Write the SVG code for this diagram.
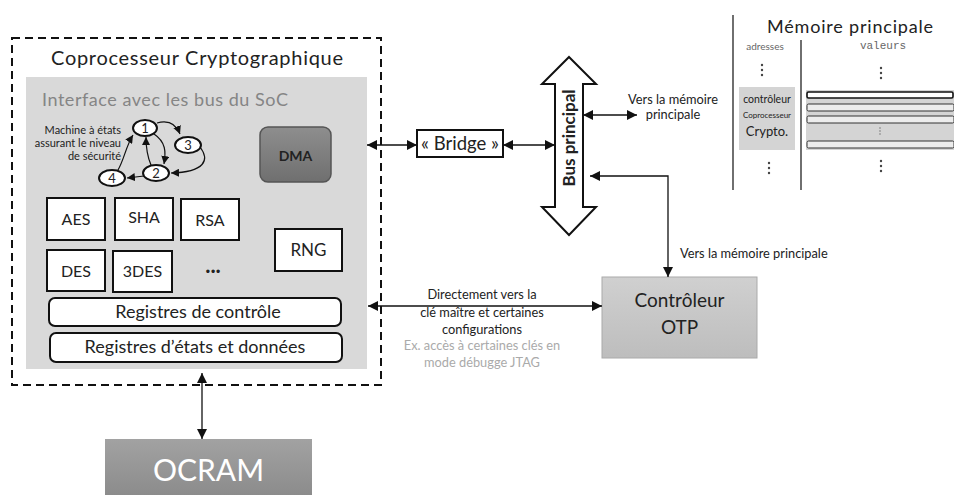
<svg xmlns="http://www.w3.org/2000/svg" width="954" height="495" viewBox="0 0 954 495">
<defs>
<style>
text{font-family:Lato,"Open Sans","Liberation Sans",sans-serif;fill:#222}
.c{text-anchor:middle}
.box{fill:#fff;stroke:#111;stroke-width:2}
.ln{stroke:#111;stroke-width:1.3;fill:none}
.sm{stroke:#111;stroke-width:1.2;fill:none}
.st{fill:#fff;stroke:#111;stroke-width:2}
.lbl{font-size:12.8px}
</style>
<marker id="ah" viewBox="0 0 10 10" refX="10" refY="5" markerWidth="11" markerHeight="10" markerUnits="userSpaceOnUse" orient="auto-start-reverse"><path d="M0,0 L10,5 L0,10 z" fill="#111"/></marker>
<marker id="as" viewBox="0 0 10 10" refX="10" refY="5" markerWidth="8" markerHeight="8" markerUnits="userSpaceOnUse" orient="auto-start-reverse"><path d="M0,0 L10,5 L0,10 z" fill="#111"/></marker>
<linearGradient id="gDma" x1="0" y1="0" x2="0" y2="1"><stop offset="0" stop-color="#8e8e8e"/><stop offset="1" stop-color="#6f6f6f"/></linearGradient>
<linearGradient id="gOtp" x1="0" y1="0" x2="0" y2="1"><stop offset="0" stop-color="#d0d0d0"/><stop offset="1" stop-color="#bdbdbd"/></linearGradient>
<linearGradient id="gOc" x1="0" y1="0" x2="0" y2="1"><stop offset="0" stop-color="#a2a2a2"/><stop offset="1" stop-color="#8a8a8a"/></linearGradient>
</defs>
<rect width="954" height="495" fill="#fff"/>

<g id="coprocesseur">
<rect x="12" y="38" width="369" height="347" fill="none" stroke="#111" stroke-width="2" stroke-dasharray="8,5"/>
<text x="197" y="65" class="c" font-size="20" textLength="292">Coprocesseur Cryptographique</text>
<rect x="26" y="77" width="341" height="292" fill="#d9d9d9"/>
<text x="42" y="106" font-size="18" style="fill:#858585" textLength="246">Interface avec les bus du SoC</text>
</g>

<g id="machine-etats">
<text x="121" y="134" font-size="11" text-anchor="end">Machine à états</text>
<text x="121" y="147" font-size="11" text-anchor="end">assurant le niveau</text>
<text x="121" y="160" font-size="11" text-anchor="end">de sécurité</text>
<path class="sm" d="M157,123 C168,120 176,124 180,134" marker-end="url(#as)"/>
<path class="sm" d="M200,147 C210,160 205,172 171,173" marker-end="url(#as)"/>
<path class="sm" d="M154,134 C166,142 166,152 164,164" marker-end="url(#as)"/>
<path class="sm" d="M151,165 C148,158 146,148 146,137" marker-end="url(#as)"/>
<path class="sm" d="M144,176 L127,178" marker-end="url(#as)"/>
<path class="sm" d="M118,170 C124,160 126,146 133,135" marker-end="url(#as)"/>
<ellipse class="st" cx="145" cy="128" rx="12" ry="8"/>
<text x="145" y="133" class="c" font-size="13">1</text>
<ellipse class="st" cx="188" cy="145" rx="13" ry="8"/>
<text x="188" y="150" class="c" font-size="13">3</text>
<ellipse class="st" cx="156" cy="173" rx="13" ry="8"/>
<text x="156" y="178" class="c" font-size="13">2</text>
<ellipse class="st" cx="112" cy="178" rx="13" ry="8"/>
<text x="112" y="183" class="c" font-size="13">4</text>
</g>

<g id="dma">
<rect x="260" y="127" width="71" height="55" rx="8" fill="url(#gDma)" stroke="#555" stroke-width="1.5"/>
<text x="295.500" y="161" class="c" font-size="14" font-weight="bold">DMA</text>
</g>

<g id="aes"><rect class="box" x="47" y="198" width="58" height="42"/><text x="76" y="225" class="c" font-size="16">AES</text></g>
<g id="sha"><rect class="box" x="115" y="198" width="58" height="42"/><text x="144" y="223" class="c" font-size="16">SHA</text></g>
<g id="rsa"><rect class="box" x="181" y="199" width="58" height="41"/><text x="210" y="226" class="c" font-size="16">RSA</text></g>
<g id="rng"><rect class="box" x="275" y="229" width="67" height="42"/><text x="308.500" y="256" class="c" font-size="17">RNG</text></g>
<g id="des"><rect class="box" x="47" y="250" width="58" height="41"/><text x="76" y="277" class="c" font-size="16">DES</text></g>
<g id="3des"><rect class="box" x="113" y="251" width="59" height="41"/><text x="142.500" y="277" class="c" font-size="16">3DES</text></g>
<g id="etc"><text x="213" y="273" class="c" font-size="22" font-weight="bold">...</text></g>

<g id="registres-controle">
<rect class="box" x="49" y="298" width="292" height="28" rx="6" stroke-width="1.8"/>
<text x="198" y="318" class="c" font-size="18">Registres de contrôle</text>
</g>
<g id="registres-etats">
<rect class="box" x="50" y="333" width="292" height="29" rx="6" stroke-width="1.8"/>
<text x="195" y="353" class="c" font-size="18">Registres d’états et données</text>
</g>

<g id="bridge">
<rect class="box" x="417" y="130" width="86" height="27" stroke-width="1.8"/>
<text x="460" y="150" class="c" font-size="18.5">« Bridge »</text>
</g>

<g id="bus-principal">
<polygon points="569,57 596,84 583,84 583,207 596,207 569,235 542,207 555,207 555,84 542,84" fill="#fff" stroke="#111" stroke-width="2"/>
<text transform="translate(575,138) rotate(-90)" class="c" font-size="17" font-weight="bold">Bus principal</text>
</g>

<g id="memoire-principale">
<line x1="733" y1="15" x2="733" y2="190" stroke="#222" stroke-width="1.3"/>
<line x1="801" y1="40" x2="801" y2="190" stroke="#222" stroke-width="1.3"/>
<text x="850" y="33" class="c" font-size="18" textLength="166">Mémoire principale</text>
<text x="765" y="50" class="c" font-size="10" style="fill:#666">adresses</text>
<text x="883" y="49" class="c" font-size="11" style="font-family:'Liberation Mono',monospace;fill:#666">valeurs</text>
<g fill="#444">
<circle cx="762" cy="65" r="1.2"/><circle cx="762" cy="70" r="1.2"/><circle cx="762" cy="75" r="1.2"/>
<circle cx="881" cy="68" r="1.2"/><circle cx="881" cy="73" r="1.2"/><circle cx="881" cy="78" r="1.2"/>
<circle cx="769" cy="163" r="1.2"/><circle cx="769" cy="168" r="1.2"/><circle cx="769" cy="173" r="1.2"/>
<circle cx="881" cy="161" r="1.2"/><circle cx="881" cy="166" r="1.2"/><circle cx="881" cy="171" r="1.2"/>
</g>
<rect x="739" y="87" width="56" height="63" fill="#d4d4d4"/>
<text x="767" y="103" class="c" font-size="10.5">contrôleur</text>
<text x="767" y="118" class="c" font-size="8">Coprocesseur</text>
<text x="767" y="136" class="c" font-size="13">Crypto.</text>
<rect x="806" y="90" width="148" height="60" fill="#d4d4d4"/>
<rect x="807" y="92" width="146" height="6" rx="1.5" fill="#fff" stroke="#111" stroke-width="1.6"/>
<rect x="807" y="104" width="147" height="7" rx="1.5" fill="#ececec" stroke="#333" stroke-width="1"/>
<rect x="807" y="116" width="147" height="7" rx="1.5" fill="#ececec" stroke="#333" stroke-width="1"/>
<rect x="807" y="141" width="147" height="7" rx="1.5" fill="#ececec" stroke="#333" stroke-width="1"/>
<g fill="#999"><circle cx="880" cy="128" r="0.9"/><circle cx="880" cy="131" r="0.9"/><circle cx="880" cy="134" r="0.9"/></g>
</g>

<g id="otp">
<rect x="602" y="277" width="155" height="81" fill="url(#gOtp)" stroke="#aaa" stroke-width="1"/>
<text x="679.500" y="307" class="c" font-size="19">Contrôleur</text>
<text x="679.500" y="334" class="c" font-size="19">OTP</text>
</g>

<g id="ocram">
<rect x="105" y="439" width="207" height="60" fill="url(#gOc)"/>
<text x="208.500" y="481" class="c" font-size="30" style="fill:#fff">OCRAM</text>
</g>

<g id="connecteurs">
<line class="ln" x1="367" y1="145" x2="417" y2="145" marker-start="url(#ah)" marker-end="url(#ah)"/>
<line class="ln" x1="503" y1="145" x2="555" y2="145" marker-start="url(#ah)" marker-end="url(#ah)"/>
<line class="ln" x1="583" y1="115" x2="637" y2="115" marker-start="url(#ah)" marker-end="url(#ah)"/>
<path class="ln" d="M590,176 H668 V277" marker-start="url(#ah)" marker-end="url(#ah)"/>
<line class="ln" x1="368" y1="306" x2="602" y2="306" marker-start="url(#ah)" marker-end="url(#ah)"/>
<line class="ln" x1="202" y1="373" x2="202" y2="439" marker-start="url(#ah)" marker-end="url(#ah)"/>
</g>

<g id="etiquettes">
<text x="673" y="104" class="c lbl">Vers la mémoire</text>
<text x="673" y="119" class="c lbl">principale</text>
<text x="680" y="258" class="lbl">Vers la  mémoire principale</text>
<text x="482" y="299" class="c lbl">Directement vers la</text>
<text x="482" y="317" class="c lbl">clé maître et certaines</text>
<text x="482" y="334" class="c lbl">configurations</text>
<text x="482" y="350" class="c lbl" style="fill:#aaa">Ex. accès à certaines clés en</text>
<text x="482" y="367" class="c lbl" style="fill:#aaa">mode débugge JTAG</text>
</g>
</svg>
